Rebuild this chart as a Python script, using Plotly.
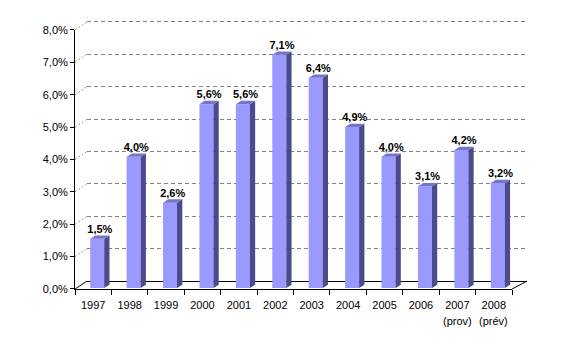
import plotly.graph_objects as go

# ---- data ----
years = ["1997", "1998", "1999", "2000", "2001", "2002", "2003", "2004", "2005", "2006", "2007", "2008"]
notes = ["", "", "", "", "", "", "", "", "", "", "(prov)", "(prév)"]
values = [1.5, 4.0, 2.6, 5.6, 5.6, 7.1, 6.4, 4.9, 4.0, 3.1, 4.2, 3.2]
y_ticks = [0, 1, 2, 3, 4, 5, 6, 7, 8]
y_ticktext = [f"{t:.1f}".replace(".", ",") + "%" for t in y_ticks]
labels = [f"{v:.1f}".replace(".", ",") + "%" for v in values]

# ---- geometry (pixels of the 565x349 page) ----
W, H = 565, 349
L, R, T, B = 75, 527, 15, 289
PW, PH = R - L, B - T
def fx(p): return (p - L) / PW
def fy(p): return (B - p) / PH

BAR_W = 0.384   # in category units
DX = 0.145      # depth offset x (category units)
DY = 0.10       # depth offset y (percent units)
FONT = "Liberation Sans, Arial, sans-serif"
PXPCT = 262 / 8  # pixels per percent on front/back planes

xs = list(range(len(years)))

fig = go.Figure()

# back plane (gridlines + floor back edge)
fig.add_trace(go.Scatter(x=[0], y=[0], mode="markers", marker=dict(opacity=0),
                         hoverinfo="skip", showlegend=False, xaxis="x", yaxis="y"))

# bars front face
fig.add_trace(go.Bar(x=xs, y=values, width=BAR_W,
                     marker=dict(color="#9999FF", line=dict(width=0)),
                     hoverinfo="skip", showlegend=False, xaxis="x2", yaxis="y2"))

# side and top faces
sx, sy = [], []
tx, ty = [], []
for i, v in zip(xs, values):
    xr = i + BAR_W / 2
    xl = i - BAR_W / 2
    sx += [xr, xr + DX, xr + DX, xr, xr, None]
    sy += [0, DY, v + DY, v, 0, None]
    tx += [xl, xl + DX, xr + DX, xr, xl, None]
    ty += [v, v + DY, v + DY, v, v, None]
fig.add_trace(go.Scatter(x=sx, y=sy, mode="lines", fill="toself", fillcolor="#4A4A8C",
                         line=dict(width=0, color="#4A4A8C"), hoverinfo="skip",
                         showlegend=False, xaxis="x2", yaxis="y2"))
fig.add_trace(go.Scatter(x=tx, y=ty, mode="lines", fill="toself", fillcolor="#7474C8",
                         line=dict(width=0, color="#7474C8"), hoverinfo="skip",
                         showlegend=False, xaxis="x2", yaxis="y2"))

# data labels
fig.add_trace(go.Scatter(x=[i + DX / 2 for i in xs], y=[v + DY for v in values],
                         mode="text", text=labels, textposition="top center",
                         textfont=dict(family=FONT, size=11, color="black", weight="bold"),
                         cliponaxis=False, hoverinfo="skip", showlegend=False,
                         xaxis="x2", yaxis="y2"))

# front axes dummy
fig.add_trace(go.Scatter(x=[0], y=[0], mode="markers", marker=dict(opacity=0),
                         hoverinfo="skip", showlegend=False, xaxis="x3", yaxis="y3"))

shapes = []
# left wall stubs for gridlines
for k in y_ticks[1:]:
    y0 = B - k * PXPCT
    shapes.append(dict(type="line", xref="paper", yref="paper",
                       x0=fx(L), y0=fy(y0), x1=fx(L + 12), y1=fy(y0 - 8),
                       line=dict(color="#A0A0A0", width=1, dash="2px,2px")))
# floor diagonals
shapes.append(dict(type="line", xref="paper", yref="paper",
                   x0=fx(L), y0=fy(B), x1=fx(L + 12), y1=fy(B - 8),
                   line=dict(color="black", width=1)))
shapes.append(dict(type="line", xref="paper", yref="paper",
                   x0=fx(512), y0=fy(B), x1=fx(R), y1=fy(B - 8),
                   line=dict(color="black", width=1)))

annotations = []
for i, n in zip(xs, notes):
    if n:
        annotations.append(dict(x=i, y=fy(321), xref="x3", yref="paper", text=n,
                                showarrow=False, yanchor="middle", xanchor="center",
                                font=dict(family=FONT, size=11, color="black")))

back_top = 8.1
fig.update_layout(
    width=W, height=H,
    margin=dict(l=L, r=W - R, t=T, b=H - B, pad=0),
    paper_bgcolor="white", plot_bgcolor="rgba(0,0,0,0)",
    showlegend=False,
    font=dict(family=FONT, size=11, color="black"),
    shapes=shapes, annotations=annotations,
    xaxis=dict(domain=[fx(87), 1], range=[-0.5, 11.5], anchor="y",
               showline=True, linecolor="black", linewidth=1,
               showticklabels=False, ticks="", showgrid=False, zeroline=False),
    yaxis=dict(domain=[fy(281), fy(281 - back_top * PXPCT)], range=[0, back_top], anchor="x",
               tickmode="array", tickvals=y_ticks[1:], showgrid=True,
               gridcolor="#808080", gridwidth=1, griddash="4px,3px",
               showticklabels=False, ticks="", showline=False, zeroline=False),
    xaxis2=dict(domain=[fx(79), fx(516)], range=[-0.5, 11.5], anchor="y2", visible=False),
    yaxis2=dict(domain=[fy(288), fy(288 - 8 * 33.2)], range=[0, 8], anchor="x2", visible=False),
    xaxis3=dict(domain=[0, fx(512)], range=[-0.5, 11.5], anchor="y3",
                showline=True, linecolor="black", linewidth=1,
                tickmode="array", tickvals=xs, ticktext=years, ticks="",
                ticklabelstandoff=6,
                minor=dict(ticks="outside", ticklen=5, tickcolor="black", tickwidth=1,
                           tickmode="array", tickvals=[i - 0.5 for i in xs] + [len(xs) - 0.5]),
                showgrid=False, zeroline=False,
                tickfont=dict(family=FONT, size=11, color="black")),
    yaxis3=dict(domain=[0, fy(B - 8 * PXPCT)], range=[0, 8], anchor="x3",
                showline=True, linecolor="black", linewidth=1,
                tickmode="array", tickvals=y_ticks, ticktext=y_ticktext,
                ticks="outside", ticklen=4, tickcolor="black",
                showgrid=False, zeroline=False,
                tickfont=dict(family=FONT, size=11, color="black")),
)

fig.write_html("out.html")
